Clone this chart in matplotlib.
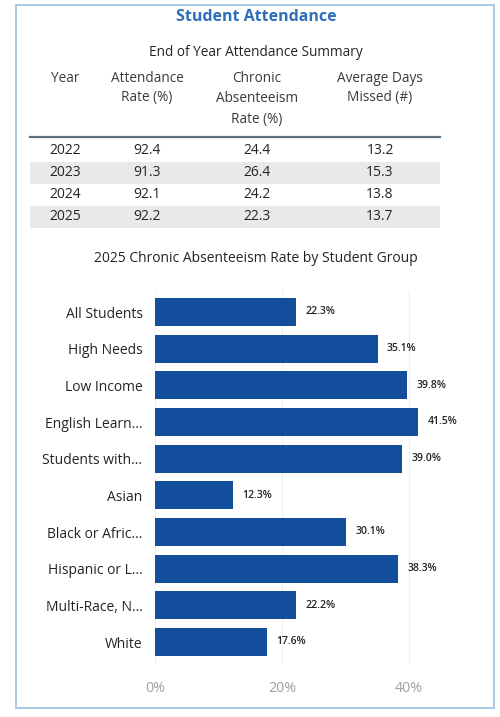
import numpy as np
import matplotlib
matplotlib.use("Agg")
import matplotlib.pyplot as plt
from matplotlib.patches import Rectangle

plt.rcParams["font.family"] = ["Open Sans", "DejaVu Sans"]

# --- Summary table ---
years = [2022, 2023, 2024, 2025]
attendance_rate = [92.4, 91.3, 92.1, 92.2]
chronic_rate = [24.4, 26.4, 24.2, 22.3]
days_missed = [13.2, 15.3, 13.8, 13.7]
table_headers = ["Year", "Attendance\nRate (%)", "Chronic\nAbsenteeism\nRate (%)", "Average Days\nMissed (#)"]

# --- Student group bars ---
groups = ["All Students", "High Needs", "Low Income", "English Learn...", "Students with...",
          "Asian", "Black or Afric...", "Hispanic or L...", "Multi-Race, N...", "White"]
group_rates = [22.3, 35.1, 39.8, 41.5, 39.0, 12.3, 30.1, 38.3, 22.2, 17.6]

W, H = 500, 717
BAR_COLOR = "#124e9c"
TEXT = "#252423"
TITLE_BLUE = "#2f6fba"

fig = plt.figure(figsize=(W / 100, H / 100), dpi=100)
fig.patch.set_facecolor("white")


def fx(x):
    return x / W


def fy(y):
    return 1 - y / H


# panel border
fig.patches.append(Rectangle((fx(16), fy(708)), fx(494) - fx(16), fy(5) - fy(708),
                             transform=fig.transFigure, fill=False,
                             edgecolor="#a9c8e8", linewidth=1.4))

fig.text(fx(256), fy(17), "Student Attendance", ha="center", va="center",
         fontsize=11.5, fontweight="bold", color=TITLE_BLUE)
fig.text(fx(256), fy(52), "End of Year Attendance Summary", ha="center", va="center",
         fontsize=9.8, color=TEXT)

col_x = [65, 147, 257, 380]
header_line_y = [79, 98, 119]
for x, head in zip(col_x, table_headers):
    for yy, line in zip(header_line_y, head.split("\n")):
        fig.text(fx(x), fy(yy), line, ha="center", va="center", fontsize=9.8,
                 color="#3a3a3a")

# header rule
fig.add_artist(plt.Line2D([fx(30), fx(440)], [fy(137), fy(137)],
                          transform=fig.transFigure, color="#5f6f80", linewidth=1.6))

row_y = [151, 173, 195, 217]
for i, yy in enumerate(row_y):
    if i % 2 == 1:
        fig.patches.append(Rectangle((fx(30), fy(yy + 11)), fx(440) - fx(30), fy(yy - 11) - fy(yy + 11),
                                     transform=fig.transFigure, facecolor="#e9e9e9",
                                     edgecolor="none", zorder=0))
    row = [str(years[i]), f"{attendance_rate[i]:.1f}", f"{chronic_rate[i]:.1f}", f"{days_missed[i]:.1f}"]
    for x, val in zip(col_x, row):
        fig.text(fx(x), fy(yy), val, ha="center", va="center", fontsize=10, color=TEXT)

fig.text(fx(256), fy(259), "2025 Chronic Absenteeism Rate by Student Group",
         ha="center", va="center", fontsize=10, color=TEXT)

# bar chart
ax = fig.add_axes([fx(155), fy(664), fx(434) - fx(155), fy(290) - fy(664)])
pos = np.arange(len(groups))
ax.barh(pos, group_rates, height=0.77, color=BAR_COLOR, zorder=2)
for p, v in zip(pos, group_rates):
    ax.text(v + 1.5, p, f"{v:.1f}%", va="center", ha="left", fontsize=7.6,
            fontweight="semibold", color=TEXT)

ax.set_xlim(0, 44)
ax.set_ylim(9.6, -0.6)
ax.set_yticks(pos)
ax.set_yticklabels(groups, fontsize=10, color=TEXT)
ax.set_xticks([0, 20, 40])
ax.set_xticklabels(["0%", "20%", "40%"], fontsize=10.3, color="#a0a0a0")
ax.tick_params(axis="both", length=0)
ax.tick_params(axis="y", pad=9)
ax.tick_params(axis="x", pad=12)
ax.grid(axis="x", color="#eeeeee", linewidth=0.8, zorder=0)
for s in ax.spines.values():
    s.set_visible(False)

fig.savefig("out.png", dpi=100)
